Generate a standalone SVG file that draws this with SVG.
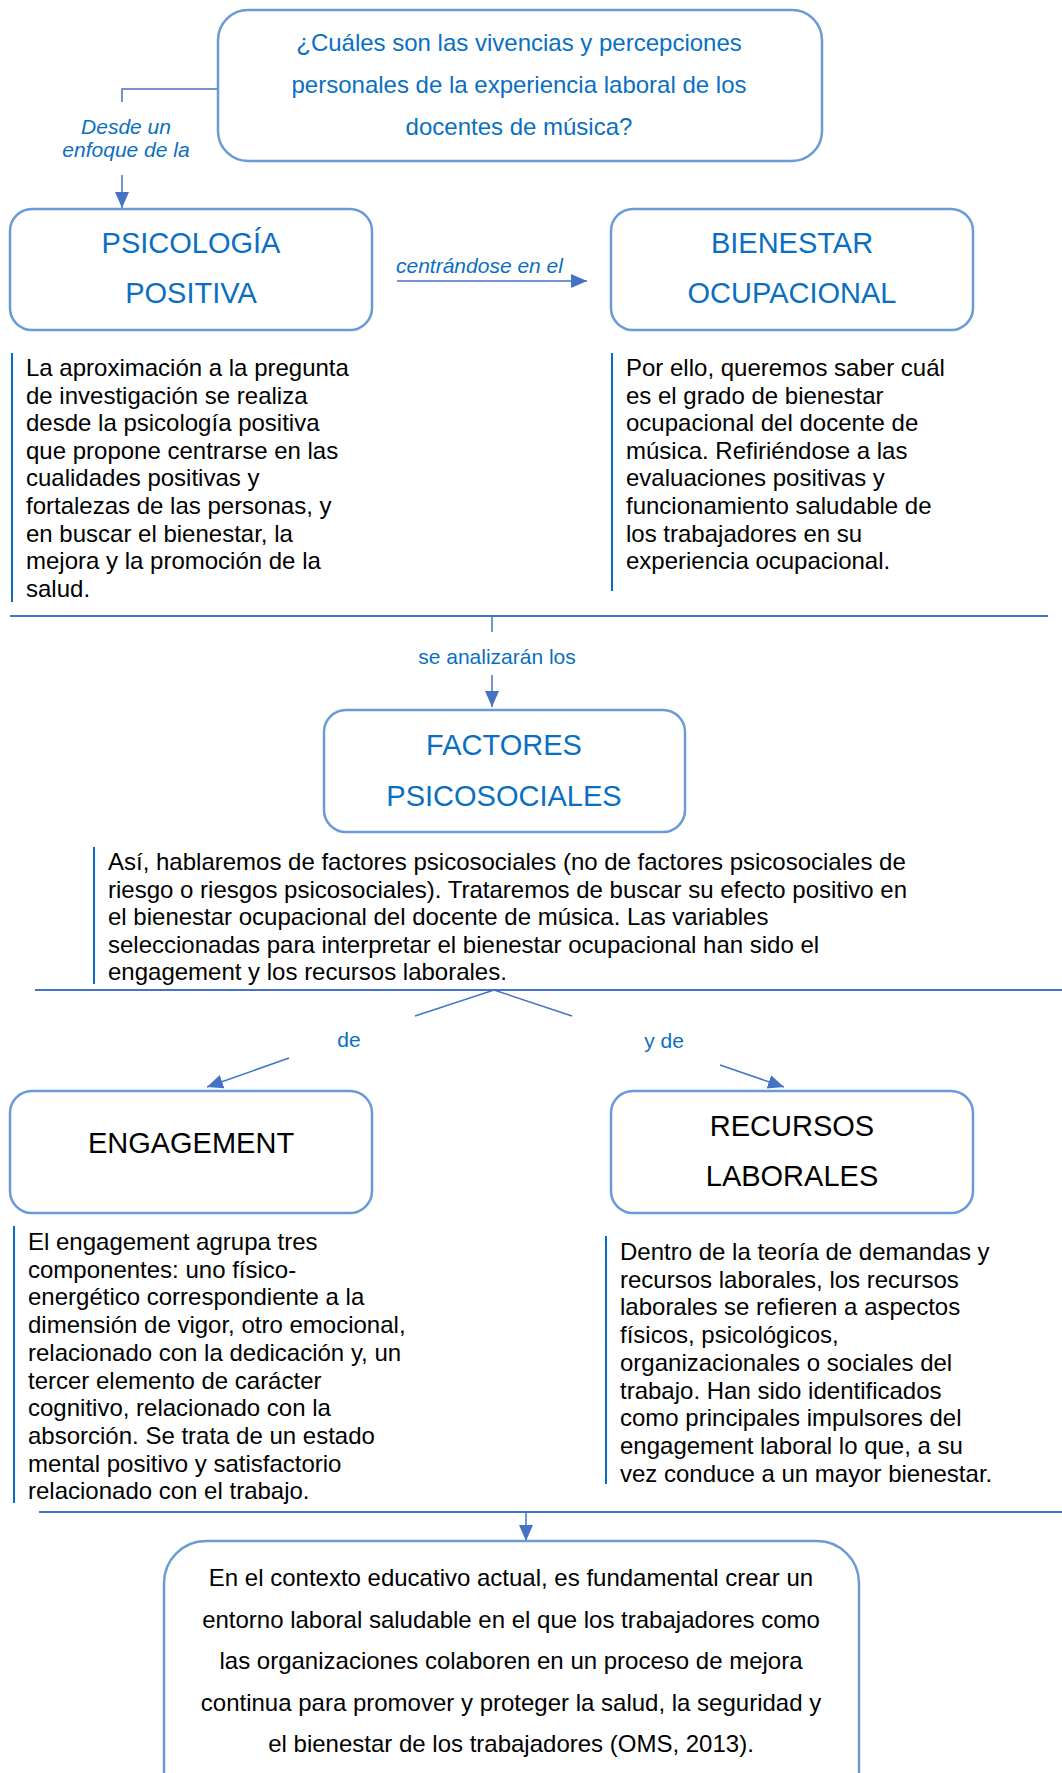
<svg xmlns="http://www.w3.org/2000/svg" width="1062" height="1773" viewBox="0 0 1062 1773">
<style>
.box{fill:#fff;stroke:#6a9ad8;stroke-width:2.5}
.q{font-family:"Liberation Sans",Arial,sans-serif;font-size:24px;fill:#0a6fc2;text-anchor:middle}
.t{font-family:"Liberation Sans",Arial,sans-serif;font-size:29px;fill:#0a6fc2;text-anchor:middle}
.tk{font-family:"Liberation Sans",Arial,sans-serif;font-size:29px;fill:#000;text-anchor:middle}
.lbl{font-family:"Liberation Sans",Arial,sans-serif;font-size:21px;fill:#0a6fc2}
.it{font-style:italic}
.body{font-family:"Liberation Sans",Arial,sans-serif;font-size:24px;fill:#000}
.bc{font-family:"Liberation Sans",Arial,sans-serif;font-size:24px;fill:#000;text-anchor:middle}
.bar{stroke:#0a6fc2;stroke-width:2}
.con{stroke:#4472c4;stroke-width:1.5;fill:none}
.sep{stroke:#4472c4;stroke-width:2;fill:none}
</style>
<defs>
<marker id="ah" markerUnits="userSpaceOnUse" markerWidth="20" markerHeight="16" refX="16" refY="7" orient="auto">
<path d="M0,0 L16,7 L0,14 Z" fill="#4472c4"/>
</marker>
</defs>
<rect width="1062" height="1773" fill="#fff"/>

<g id="connectors">
<path class="con" d="M218,89 H122 V102"/>
<path class="con" d="M122,175 V208" marker-end="url(#ah)"/>
<path class="con" d="M397,281 H587" marker-end="url(#ah)"/>
<path class="sep" d="M10,616 H1048"/>
<path class="con" d="M492,616 V632"/>
<path class="con" d="M492,675 V707" marker-end="url(#ah)"/>
<path class="sep" d="M35,990 H1062"/>
<path class="con" d="M415,1016 L494,990 L572,1016"/>
<path class="con" d="M289,1058 L207,1087" marker-end="url(#ah)"/>
<path class="con" d="M720,1065 L784,1087" marker-end="url(#ah)"/>
<path class="sep" d="M39,1512 H1062"/>
<path class="con" d="M526,1512 V1541" marker-end="url(#ah)"/>
<text class="lbl it" x="126" y="134" text-anchor="middle">Desde un</text>
<text class="lbl it" x="126" y="157" text-anchor="middle">enfoque de la</text>
<text class="lbl it" x="396" y="273">centrándose en el</text>
<text class="lbl" x="497" y="664" text-anchor="middle">se analizarán los</text>
<text class="lbl" x="349" y="1047" text-anchor="middle">de</text>
<text class="lbl" x="664" y="1048" text-anchor="middle">y de</text>
</g>

<g id="pregunta">
<rect class="box" x="218" y="10" width="604" height="151" rx="30"/>
<text class="q" x="519" y="51">¿Cuáles son las vivencias y percepciones</text>
<text class="q" x="519" y="93">personales de la experiencia laboral de los</text>
<text class="q" x="519" y="135">docentes de música?</text>
</g>

<g id="psicologia">
<rect class="box" x="10" y="209" width="362" height="121" rx="22"/>
<text class="t" x="191" y="253">PSICOLOGÍA</text>
<text class="t" x="191" y="303">POSITIVA</text>
</g>

<g id="bienestar">
<rect class="box" x="611" y="209" width="362" height="121" rx="22"/>
<text class="t" x="792" y="253">BIENESTAR</text>
<text class="t" x="792" y="303">OCUPACIONAL</text>
</g>

<g id="texto-psicologia">
<line class="bar" x1="12" y1="353" x2="12" y2="602"/>
<text class="body" x="26" y="376">
<tspan x="26" dy="0">La aproximación a la pregunta</tspan>
<tspan x="26" dy="27.6">de investigación se realiza</tspan>
<tspan x="26" dy="27.6">desde la psicología positiva</tspan>
<tspan x="26" dy="27.6">que propone centrarse en las</tspan>
<tspan x="26" dy="27.6">cualidades positivas y</tspan>
<tspan x="26" dy="27.6">fortalezas de las personas, y</tspan>
<tspan x="26" dy="27.6">en buscar el bienestar, la</tspan>
<tspan x="26" dy="27.6">mejora y la promoción de la</tspan>
<tspan x="26" dy="27.6">salud.</tspan>
</text>
</g>

<g id="texto-bienestar">
<line class="bar" x1="612" y1="353" x2="612" y2="591"/>
<text class="body" x="626" y="376">
<tspan x="626" dy="0">Por ello, queremos saber cuál</tspan>
<tspan x="626" dy="27.6">es el grado de bienestar</tspan>
<tspan x="626" dy="27.6">ocupacional del docente de</tspan>
<tspan x="626" dy="27.6">música. Refiriéndose a las</tspan>
<tspan x="626" dy="27.6">evaluaciones positivas y</tspan>
<tspan x="626" dy="27.6">funcionamiento saludable de</tspan>
<tspan x="626" dy="27.6">los trabajadores en su</tspan>
<tspan x="626" dy="27.6">experiencia ocupacional.</tspan>
</text>
</g>

<g id="factores">
<rect class="box" x="324" y="710" width="361" height="122" rx="22"/>
<text class="t" x="504" y="755">FACTORES</text>
<text class="t" x="504" y="806">PSICOSOCIALES</text>
</g>

<g id="texto-factores">
<line class="bar" x1="94" y1="847" x2="94" y2="984"/>
<text class="body" x="108" y="870">
<tspan x="108" dy="0">Así, hablaremos de factores psicosociales (no de factores psicosociales de</tspan>
<tspan x="108" dy="27.6">riesgo o riesgos psicosociales). Trataremos de buscar su efecto positivo en</tspan>
<tspan x="108" dy="27.6">el bienestar ocupacional del docente de música. Las variables</tspan>
<tspan x="108" dy="27.6">seleccionadas para interpretar el bienestar ocupacional han sido el</tspan>
<tspan x="108" dy="27.6">engagement y los recursos laborales.</tspan>
</text>
</g>

<g id="engagement">
<rect class="box" x="10" y="1091" width="362" height="122" rx="22"/>
<text class="tk" x="191" y="1153">ENGAGEMENT</text>
</g>

<g id="recursos">
<rect class="box" x="611" y="1091" width="362" height="122" rx="22"/>
<text class="tk" x="792" y="1136">RECURSOS</text>
<text class="tk" x="792" y="1186">LABORALES</text>
</g>

<g id="texto-engagement">
<line class="bar" x1="14" y1="1226" x2="14" y2="1503"/>
<text class="body" x="28" y="1250">
<tspan x="28" dy="0">El engagement agrupa tres</tspan>
<tspan x="28" dy="27.7">componentes: uno físico-</tspan>
<tspan x="28" dy="27.7">energético correspondiente a la</tspan>
<tspan x="28" dy="27.7">dimensión de vigor, otro emocional,</tspan>
<tspan x="28" dy="27.7">relacionado con la dedicación y, un</tspan>
<tspan x="28" dy="27.7">tercer elemento de carácter</tspan>
<tspan x="28" dy="27.7">cognitivo, relacionado con la</tspan>
<tspan x="28" dy="27.7">absorción. Se trata de un estado</tspan>
<tspan x="28" dy="27.7">mental positivo y satisfactorio</tspan>
<tspan x="28" dy="27.7">relacionado con el trabajo.</tspan>
</text>
</g>

<g id="texto-recursos">
<line class="bar" x1="606" y1="1236" x2="606" y2="1484"/>
<text class="body" x="620" y="1260">
<tspan x="620" dy="0">Dentro de la teoría de demandas y</tspan>
<tspan x="620" dy="27.7">recursos laborales, los recursos</tspan>
<tspan x="620" dy="27.7">laborales se refieren a aspectos</tspan>
<tspan x="620" dy="27.7">físicos, psicológicos,</tspan>
<tspan x="620" dy="27.7">organizacionales o sociales del</tspan>
<tspan x="620" dy="27.7">trabajo. Han sido identificados</tspan>
<tspan x="620" dy="27.7">como principales impulsores del</tspan>
<tspan x="620" dy="27.7">engagement laboral lo que, a su</tspan>
<tspan x="620" dy="27.7">vez conduce a un mayor bienestar.</tspan>
</text>
</g>

<g id="conclusion">
<rect class="box" x="164" y="1541" width="695" height="280" rx="42"/>
<text class="bc" x="511" y="1586">En el contexto educativo actual, es fundamental crear un</text>
<text class="bc" x="511" y="1627.5">entorno laboral saludable en el que los trabajadores como</text>
<text class="bc" x="511" y="1669">las organizaciones colaboren en un proceso de mejora</text>
<text class="bc" x="511" y="1710.5">continua para promover y proteger la salud, la seguridad y</text>
<text class="bc" x="511" y="1752">el bienestar de los trabajadores (OMS, 2013).</text>
</g>
</svg>
